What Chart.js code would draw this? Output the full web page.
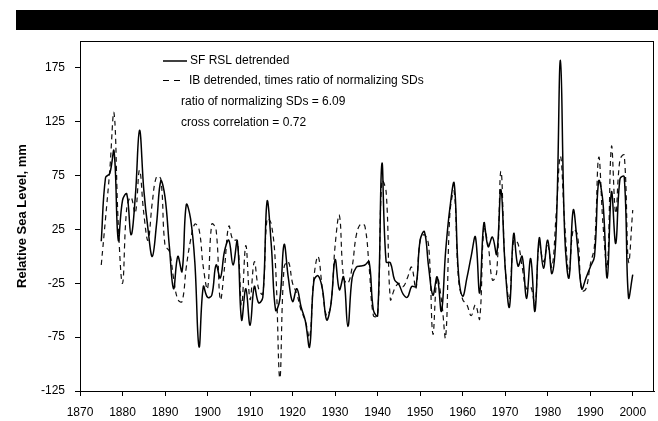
<!DOCTYPE html>
<html lang="en">
  <head>
    <meta charset="utf-8" />
    <style>
      * {
        margin: 0;
        padding: 0;
      }
      body {
        background: #fff;
      }
    </style>
  </head>
  <body>
    <canvas id="myChart" width="658" height="421"></canvas>
    <script src="https://cdn.jsdelivr.net/npm/chart.js/dist/chart.umd.min.js"></script>
    <script>
      // data, one value per year 1875-2000
      const startYear = 1875;
      const sfRsl = [
        14, 73, 77, 98, 15, 52, 58, 20, 55, 117, 62, 25, 0, 30, 70,
        55, 10, -30, 0, -14, 48, 35, -5, -84, -28,
        -38, -36, -8, -20, 5, 15, -8, 14, -59, -30,
        -64, -28, -43, -38, 51, 10, -50, -40, 11, -20,
        -42, -30, -47, -60, -84, -23, -18, -30, -59, -45,
        -3, -31, -19, -65, -20, -10, -9, -8, -5, -50,
        -55, 86, -5, -6, -22, -26, -35, -38, -28, -28,
        15, 23, -10, -36, -19, -51, 5, 45, 68, -15,
        -37, -20, 0, 18, -34, 31, 9, 18, 2, 62,
        -10, -47, 21, -9, 0, -39, -2, -51, 17, -11,
        15, -16, 25, 182, 20, -20, 43, 10, -30, -20,
        -10, 0, 70, 50, -20, 60, 12, 72, 74, -38,
        -17
      ];
      const ibScaled = [
        -8, 35, 80, 133, 30, -25, 45, 55, 40, 80, 40, 15, 50, 74, 72,
        10, 5, -20, -40, -42, -10, 15, 30, 25, -10,
        -30, 30, 25, -40, -10, 28, 15, 15, -45, 10,
        -40, -5, -30, -35, 35, 30, -10, -113, -10, -5,
        -25, -35, -50, -60, -75, -20, 0, -30, -55, -45,
        10, 38, -20, -25, -10, 20, 30, 28, -10, -55,
        -55, 70, 60, -40, -30, -25, -28, -20, -10, -30,
        15, 20, 10, -72, -20, -40, -75, 40, 60, -20,
        -40, -45, -55, -45, -58, 25, 10, -22, -15, 79,
        -10, -40, 15, 12, -10, -30, -28, -45, 12, -5,
        10, -10, 40, 93, 30, -15, 25, 20, -32, -30,
        -8, 10, 92, 30, -10, 102, 40, 90, 94, -5,
        43
      ];
      const xTicks = [1870, 1880, 1890, 1900, 1910, 1920, 1930, 1940, 1950, 1960, 1970, 1980, 1990, 2000];
      const yTicks = [-125, -75, -25, 25, 75, 125, 175];
      const notes = ["ratio of normalizing SDs = 6.09", "cross correlation = 0.72"];

      const toPoints = (arr) => arr.map((v, i) => ({ x: startYear + i, y: v }));
      const FONT = '"Liberation Sans", Arial, sans-serif';

      // frame, black bar and the text legend
      const decor = {
        id: "decor",
        afterDraw(chart) {
          const { ctx, chartArea: a } = chart;
          ctx.save();
          ctx.fillStyle = "#000";
          ctx.fillRect(16, 10, chart.width - 16, 20);
          ctx.strokeStyle = "#000";
          ctx.lineWidth = 1;
          ctx.strokeRect(a.left + 0.5, a.top + 0.5, a.right - a.left - 1, a.bottom - a.top);

          ctx.font = "12px " + FONT;
          ctx.textBaseline = "middle";
          ctx.fillStyle = "#000";
          const lx = a.left + 83;
          // solid sample
          ctx.lineWidth = 1.5;
          ctx.setLineDash([]);
          ctx.beginPath();
          ctx.moveTo(lx, a.top + 20);
          ctx.lineTo(lx + 24, a.top + 20);
          ctx.stroke();
          ctx.fillText(chart.data.datasets[0].label, lx + 27, a.top + 20);
          // dashed sample
          ctx.lineWidth = 1.2;
          ctx.setLineDash([6, 5]);
          ctx.beginPath();
          ctx.moveTo(lx, a.top + 39.5);
          ctx.lineTo(lx + 17, a.top + 39.5);
          ctx.stroke();
          ctx.setLineDash([]);
          ctx.fillText(chart.data.datasets[1].label, lx + 26, a.top + 39.5);
          notes.forEach((t, i) => ctx.fillText(t, lx + 18, a.top + 60.5 + i * 21));
          ctx.restore();
        },
      };

      const config = {
        type: "line",
        data: {
          datasets: [
            {
              label: "SF RSL detrended",
              data: toPoints(sfRsl),
              borderColor: "#000",
              borderWidth: 1.5,
              pointRadius: 0,
              tension: 0.4,
              fill: false,
            },
            {
              label: "IB detrended, times ratio of normalizing SDs",
              data: toPoints(ibScaled),
              borderColor: "#111",
              borderWidth: 1.2,
              borderDash: [5, 4],
              pointRadius: 0,
              tension: 0.4,
              fill: false,
            },
          ],
        },
        options: {
          responsive: false,
          animation: false,
          layout: { padding: { top: 41, right: 4, left: 0, bottom: 0 } },
          scales: {
            x: {
              type: "linear",
              min: 1870,
              max: 2005,
              afterBuildTicks: (s) => {
                s.ticks = xTicks.map((v) => ({ value: v }));
              },
              afterFit: (s) => {
                s.height = 30;
              },
              grid: { drawOnChartArea: false, drawTicks: true, tickLength: 5, color: "#000" },
              border: { display: true, color: "#000", width: 1 },
              ticks: {
                color: "#000",
                padding: 9,
                maxRotation: 0,
                font: { family: FONT, size: 12 },
                callback: (v) => String(v),
              },
            },
            y: {
              min: -125,
              max: 200,
              afterBuildTicks: (s) => {
                s.ticks = yTicks.map((v) => ({ value: v }));
              },
              afterFit: (s) => {
                s.width = 80;
              },
              grid: { drawOnChartArea: false, drawTicks: true, tickLength: 5, color: "#000" },
              border: { display: true, color: "#000", width: 1 },
              ticks: {
                color: "#000",
                padding: 10,
                font: { family: FONT, size: 12 },
              },
              title: {
                display: true,
                text: "Relative Sea Level, mm",
                color: "#000",
                padding: { top: 15, bottom: 0 },
                font: { family: FONT, size: 13, weight: "bold" },
              },
            },
          },
          plugins: {
            legend: { display: false },
            tooltip: { enabled: false },
          },
        },
        plugins: [decor],
      };

      const myChart = new Chart(document.getElementById("myChart"), config);
    </script>
  </body>
</html>
